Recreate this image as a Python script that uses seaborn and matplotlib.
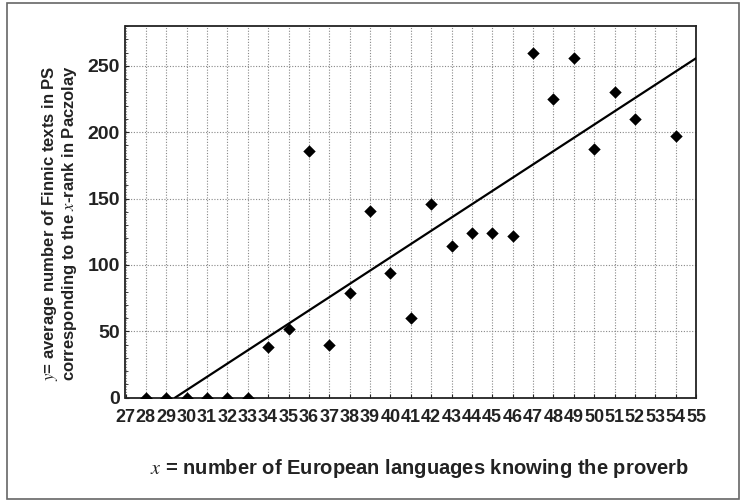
import matplotlib
matplotlib.use("Agg")
import matplotlib.pyplot as plt
from matplotlib.patches import Rectangle
from matplotlib import font_manager
import seaborn as sns
import pandas as pd
import numpy as np

# ---- data ----
x_rank = [28, 29, 30, 31, 32, 33, 34, 35, 36, 37, 38, 39, 40, 41, 42, 43, 44, 45, 46, 47, 48, 49, 50, 51, 52, 54]
y_avg = [0, 0, 0, 0, 0, 0, 38, 52, 186, 40, 79, 141, 94, 60, 146, 114, 124, 124, 122, 260, 225, 256, 187, 230, 210, 197]
fit_slope = 10.0
fit_intercept = -294.3
x_ticks = list(range(27, 56))
y_ticks = [0, 50, 100, 150, 200, 250]

sns.set_theme(style="white")
plt.rcParams["font.family"] = ["Liberation Sans", "DejaVu Sans"]
plt.rcParams["mathtext.fontset"] = "stix"

names = {f.name for f in font_manager.fontManager.ttflist}
narrow = "Liberation Sans Narrow" if "Liberation Sans Narrow" in names else "Liberation Sans"

fig = plt.figure(figsize=(7.41, 5.01), dpi=100)
ax = fig.add_axes([125.5 / 741, 1 - 397.7 / 501, (696 - 125.5) / 741, (397.7 - 26) / 501])

df = pd.DataFrame({"x": x_rank, "y": y_avg})
sns.scatterplot(data=df, x="x", y="y", ax=ax, marker="D", s=40, color="black",
                edgecolor="black", linewidth=0, zorder=4)

ax.axline((0, fit_intercept), slope=fit_slope, color="black", linewidth=1.6, zorder=3)

ax.set_xlim(27, 55)
ax.set_ylim(0, 280)
ax.set_xticks(x_ticks)
ax.set_xticklabels([str(t) for t in x_ticks], fontsize=13, fontweight="bold",
                   family=[narrow, "DejaVu Sans"], color="#222222")
ax.set_yticks(y_ticks)
ax.set_yticklabels([str(t) for t in y_ticks], fontsize=14, fontweight="bold", color="#222222")
ax.set_yticks(np.arange(0, 281, 10), minor=True)

ax.grid(True, which="major", linestyle=(0, (1, 1.5)), color="#888888", linewidth=0.8)
ax.tick_params(axis="both", which="major", direction="in", length=3, width=0.8)
ax.tick_params(axis="y", which="minor", direction="in", length=2, width=0.6, left=True)
ax.tick_params(axis="x", which="major", bottom=True, pad=8)
ax.tick_params(axis="y", which="major", left=True, pad=4)
for sp in ax.spines.values():
    sp.set_color("#222222")
    sp.set_linewidth(1.3)

ax.set_xlabel("")
ax.set_ylabel("")

fig.text(419 / 741, 1 - 468 / 501, r"$x$ = number of European languages knowing the proverb",
         ha="center", va="center", fontsize=14.5, fontweight="bold", color="#222222")

fig.text(50 / 741, 1 - 223 / 501, r"$y$= average number of Finnic texts in PS",
         rotation=90, ha="center", va="center", fontsize=12, fontweight="bold", color="#222222")
fig.text(70 / 741, 1 - 223 / 501, r"corresponding to the $x$-rank in Paczolay",
         rotation=90, ha="center", va="center", fontsize=12, fontweight="bold", color="#222222")

fig.patches.append(Rectangle((7 / 741, 2 / 501), 732 / 741, 496 / 501, transform=fig.transFigure,
                             fill=False, edgecolor="#666666", linewidth=1.2))

fig.savefig("out.png", dpi=100)
